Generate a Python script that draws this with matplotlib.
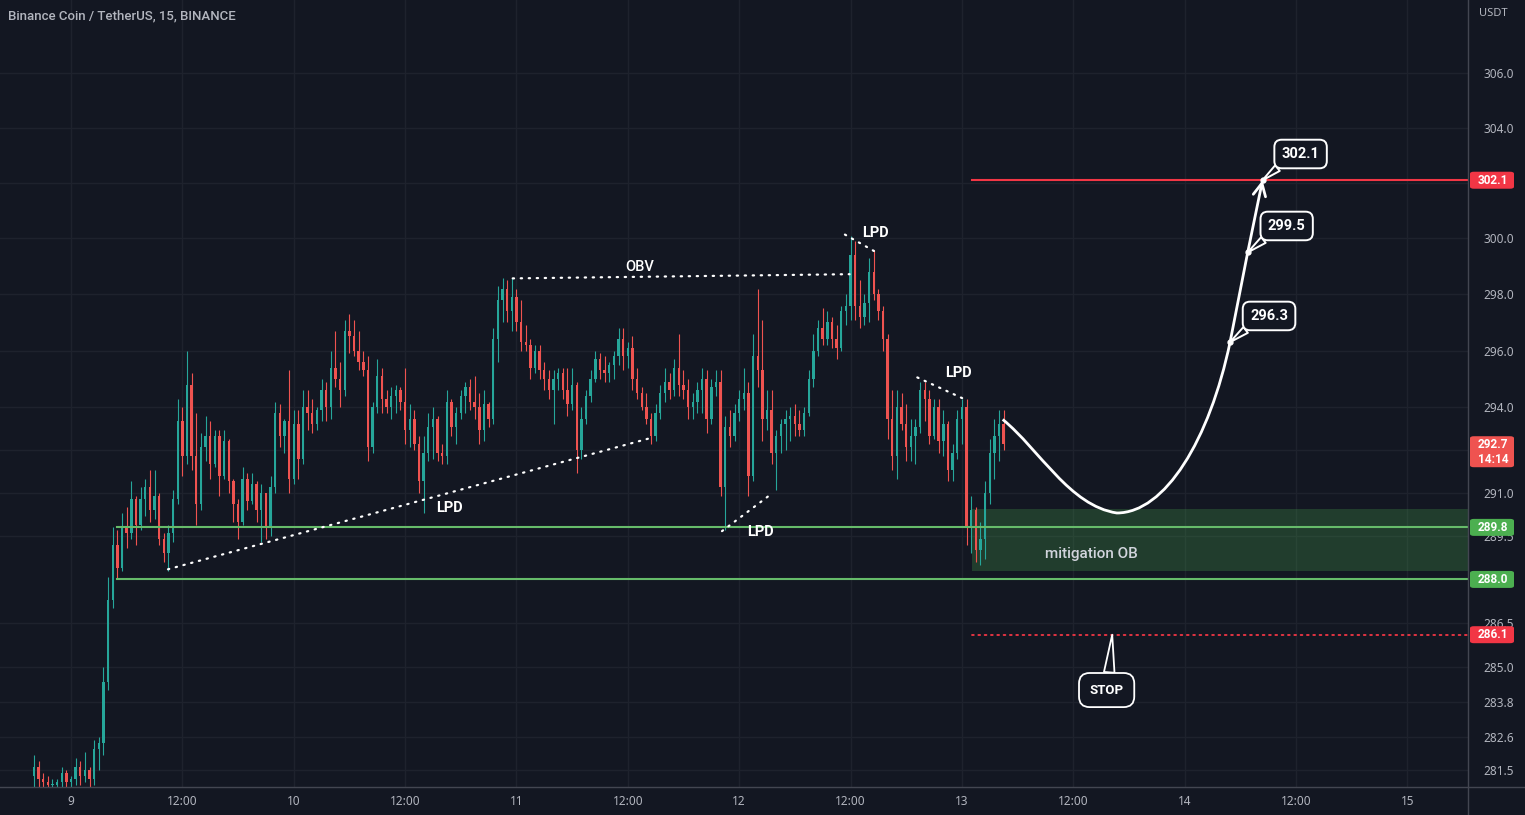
#!/usr/bin/env python3
# BNB/USDT 15m chart with the trade idea drawn on top (TradingView dark look)

import numpy as np
import matplotlib
matplotlib.use("Agg")
import matplotlib.pyplot as plt
from matplotlib.path import Path
from matplotlib.patches import PathPatch, Rectangle, FancyBboxPatch
from matplotlib.lines import Line2D
from matplotlib.ticker import FixedLocator, FixedFormatter, NullLocator

plt.rcParams['font.family'] = ['Noto Sans', 'DejaVu Sans']
BOLD = ['Roboto', 'DejaVu Sans']

# ---- data -------------------------------------------------------------
# candles every 30 min, time in hours from the 9th 00:00
candle_start = -4.0
candle_step = 0.5
first_open = 281.3
closes = [
    281.6, 281.2, 281.1, 281.0, 281.0, 281.1, 281.4, 281.1, 281.2, 281.6,
    281.3, 281.5, 281.2, 282.2, 282.4, 284.5, 287.3, 289.2, 288.4, 289.8,
    289.6, 290.8, 289.9, 290.8, 291.2, 290.4, 290.9, 289.4, 288.9, 289.6,
    290.8, 293.5, 292.3, 294.8, 292.3, 290.6, 292.6, 293.0, 292.0, 293.0,
    291.6, 292.8, 291.4, 290.6, 290.0, 291.5, 290.7, 291.3, 290.4, 291.0,
    289.8, 291.2, 293.8, 293.0, 293.5, 291.5, 293.4, 292.2, 294.0, 293.8,
    293.4, 293.9, 294.6, 294.0, 295.4, 295.0, 294.6, 296.7, 296.5, 296.0,
    295.6, 295.3, 292.6, 294.0, 295.1, 294.3, 294.0, 294.4, 294.6, 294.2,
    293.2, 293.6, 292.7, 291.4, 292.4, 293.3, 293.6, 292.4, 292.3, 294.2,
    293.3, 293.8, 294.4, 294.7, 294.2, 294.0, 293.2, 294.1, 293.6, 296.4,
    297.8, 298.2, 297.4, 297.9, 297.0, 296.3, 296.2, 295.4, 296.0, 295.3,
    295.0, 294.6, 295.0, 295.2, 294.6, 294.1, 294.8, 292.5, 293.6, 294.4,
    295.0, 295.7, 295.3, 295.2, 295.5, 295.8, 296.4, 295.8, 296.1, 295.0,
    294.5, 294.0, 293.6, 293.0, 293.8, 294.5, 294.9, 294.6, 295.4, 294.8,
    294.6, 294.0, 294.2, 294.6, 295.0, 293.6, 294.7, 294.9, 291.2, 293.3,
    293.0, 293.8, 294.3, 294.5, 291.6, 295.8, 295.3, 293.6, 293.9, 292.4,
    293.0, 293.4, 293.6, 293.7, 293.4, 293.2, 293.8, 295.0, 296.0, 296.8,
    296.4, 297.0, 296.4, 296.1, 297.4, 297.6, 299.4, 297.6, 297.2, 297.7,
    298.8, 298.0, 297.4, 296.4, 293.6, 292.3, 294.0, 293.4, 292.6, 293.0,
    293.3, 294.6, 294.3, 293.0, 294.0, 292.8, 293.4, 291.8, 292.4, 293.6,
    294.0, 289.8, 290.4, 289.0, 289.4, 291.0, 292.4, 293.0, 293.4, 292.7,
]
highs = [
    282.0, 281.8, 281.4, 281.3, 281.2, 281.2, 281.6, 281.5, 281.3, 281.9,
    281.8, 282.1, 281.6, 282.5, 282.6, 285.0, 288.1, 289.8, 289.7, 290.3,
    290.5, 291.4, 290.9, 291.2, 291.5, 291.8, 291.8, 291.0, 289.6, 289.9,
    291.1, 294.3, 294.0, 296.0, 295.2, 293.8, 293.1, 293.7, 293.5, 293.2,
    293.2, 293.2, 292.9, 291.5, 290.8, 291.9, 291.7, 291.7, 291.4, 291.3,
    291.0, 291.6, 294.2, 294.1, 293.6, 295.3, 293.9, 293.9, 294.6, 294.6,
    294.3, 294.0, 295.0, 294.9, 296.0, 296.7, 295.6, 297.1, 297.3, 297.1,
    296.7, 296.0, 295.8, 294.2, 295.7, 295.4, 294.6, 294.7, 294.8, 294.7,
    295.4, 294.1, 293.9, 293.0, 293.0, 293.8, 294.0, 293.7, 292.7, 294.6,
    294.3, 294.0, 294.6, 294.9, 295.0, 295.1, 294.5, 294.6, 294.2, 296.8,
    298.3, 298.6, 298.5, 298.6, 298.2, 297.8, 296.9, 296.4, 296.2, 296.2,
    295.6, 295.3, 295.3, 295.4, 295.4, 295.4, 295.4, 294.9, 294.0, 294.6,
    295.3, 296.0, 295.9, 295.8, 295.6, 296.0, 296.8, 296.8, 296.3, 296.5,
    295.4, 294.7, 294.5, 293.8, 294.1, 294.8, 295.4, 295.2, 295.7, 296.6,
    295.3, 295.0, 294.5, 294.9, 295.4, 295.3, 295.0, 295.3, 295.3, 293.7,
    293.9, 294.1, 294.6, 295.4, 294.9, 296.6, 298.2, 297.1, 294.6, 294.6,
    293.2, 293.6, 293.9, 294.0, 294.1, 293.9, 294.0, 295.3, 296.6, 297.1,
    297.5, 297.4, 297.2, 296.9, 297.6, 298.0, 300.1, 299.9, 298.5, 298.0,
    299.3, 299.6, 298.2, 297.6, 296.6, 294.6, 294.6, 294.5, 294.1, 293.6,
    293.6, 294.9, 294.9, 294.6, 294.3, 294.3, 293.9, 293.5, 292.7, 293.9,
    294.3, 294.3, 290.9, 290.5, 290.0, 291.4, 292.9, 293.6, 293.9, 293.9,
]
lows = [
    280.8, 280.9, 280.8, 280.8, 280.8, 280.9, 280.9, 280.9, 280.9, 281.0,
    281.0, 281.1, 280.9, 281.0, 281.5, 282.0, 284.2, 287.0, 288.0, 288.3,
    289.1, 289.4, 289.2, 289.7, 290.2, 290.0, 290.1, 289.2, 288.6, 288.3,
    289.3, 290.6, 291.6, 292.0, 291.8, 289.9, 290.4, 292.1, 291.5, 291.9,
    290.9, 291.5, 291.0, 290.0, 289.4, 289.9, 290.4, 290.6, 290.0, 289.3,
    289.4, 289.5, 291.0, 292.6, 292.4, 291.0, 291.3, 291.5, 292.0, 293.2,
    293.1, 293.2, 293.5, 293.5, 293.6, 294.7, 294.0, 294.4, 295.9, 295.8,
    295.3, 295.1, 292.1, 292.4, 293.8, 293.8, 293.8, 293.6, 293.8, 293.9,
    292.7, 292.6, 292.5, 291.0, 290.3, 292.1, 292.2, 292.1, 292.0, 292.0,
    293.0, 292.7, 293.6, 293.8, 293.9, 293.6, 292.7, 292.8, 293.3, 293.4,
    295.6, 297.0, 297.0, 296.7, 296.7, 296.0, 296.0, 295.0, 295.2, 295.0,
    294.6, 294.3, 293.4, 294.6, 294.3, 293.7, 293.9, 291.7, 292.2, 293.4,
    294.2, 294.9, 295.0, 294.9, 294.9, 295.0, 295.5, 295.3, 295.4, 294.6,
    294.3, 293.9, 293.4, 292.7, 292.8, 293.6, 294.2, 294.3, 294.4, 294.4,
    294.3, 293.6, 293.6, 293.8, 293.8, 293.1, 293.4, 294.4, 290.9, 289.7,
    292.6, 292.8, 293.5, 293.9, 290.9, 291.4, 294.7, 292.8, 293.2, 292.0,
    291.1, 292.4, 292.5, 292.8, 293.0, 293.0, 293.0, 293.7, 294.7, 295.8,
    296.2, 296.2, 296.1, 295.7, 296.0, 296.9, 297.1, 297.1, 296.8, 296.9,
    297.0, 297.8, 297.1, 296.0, 292.9, 291.8, 291.5, 293.2, 292.1, 292.1,
    292.0, 293.1, 293.5, 292.7, 292.9, 292.4, 292.3, 291.4, 291.4, 292.2,
    292.7, 289.2, 288.9, 288.6, 288.5, 288.7, 290.6, 291.5, 292.1, 292.5,
]

day_ticks = [0, 12, 24, 36, 48, 60, 72, 84, 96, 108, 120, 132, 144]
day_labels = ['9', '12:00', '10', '12:00', '11', '12:00', '12', '12:00',
              '13', '12:00', '14', '12:00', '15']
price_ticks = [281.5, 282.6, 283.8, 285.0, 286.5, 289.5, 291.0, 292.5,
               294.0, 296.0, 298.0, 300.0, 302.0, 304.0, 306.0]
# tick labels sitting under a price badge are not printed
hidden_ticks = [292.5, 302.0]

# levels of the idea
target_price = 302.1
ob_top, ob_bottom = 290.45, 288.28
support_hi, support_lo = 289.8, 288.0
stop_price = 286.1
last_price = 292.7
countdown = '14:14'
zone_start = 97.1
level_start = 5.0

# projected move (hour, price): start, two bezier handles, low, handles, first target
proj_pts = [(100.4, 293.57), (104.4, 292.5), (107.6, 290.55), (112.7, 290.3),
            (117.9, 290.3), (122.7, 292.86), (124.9, 296.3)]
target_pts = [(124.9, 296.3), (126.8, 299.5), (128.4, 302.1)]
target_txt = ['296.3', '299.5', '302.1']
target_box = [(129.1, 297.23), (131.0, 300.45), (132.5, 303.05)]
stop_pt = (112.2, 286.1)
stop_box = (111.6, 284.21)

obv_line = [(47.6, 298.57), (83.9, 298.72)]
obv_label = (61.3, 298.97)
lpd_lines = [
    [(10.45, 288.35), (62.6, 292.93)],
    [(70.15, 289.67), (75.5, 290.97)],
    [(83.4, 300.14), (86.8, 299.5)],
    [(91.2, 295.05), (96.5, 294.25)],
]
lpd_labels = [(40.8, 290.47), (74.3, 289.63), (86.7, 300.18), (95.6, 295.19)]
ob_label = (110.0, 288.87)

# ---- style -------------------------------------------------------------
BG = '#131722'
TXT = '#b2b5be'
GRID = '#1e222d'
AXLINE = '#434651'
UP = '#26a69a'
DOWN = '#ef5350'
RED = '#f23645'
GREEN = '#4caf50'

W, H = 1525, 815
fig = plt.figure(figsize=(W / 100, H / 100), dpi=100, facecolor=BG)
ax = fig.add_axes([0, 28 / H, 1468 / W, 787 / H])
ax.set_facecolor(BG)
ax.set_yscale('log')
ax.set_xlim(-7.65, 150.54)
ax.set_ylim(280.93, 308.69)
for s in ax.spines.values():
    s.set_visible(False)

ax.yaxis.tick_right()
ax.yaxis.set_major_locator(FixedLocator(price_ticks))
ax.yaxis.set_major_formatter(FixedFormatter(
    ['' if p in hidden_ticks else '%.1f' % p for p in price_ticks]))
ax.yaxis.set_minor_locator(NullLocator())
ax.set_xticks(day_ticks)
ax.set_xticklabels(day_labels)
ax.tick_params(axis='y', length=0, pad=11, labelsize=8.5, labelcolor=TXT)
ax.tick_params(axis='x', length=0, pad=6, labelsize=8.5, labelcolor=TXT)
ax.grid(True, color=GRID, lw=1)
ax.set_axisbelow(True)

# ---- candles ------------------------------------------------------------
closes = np.array(closes)
highs = np.array(highs)
lows = np.array(lows)
opens = np.concatenate([[first_open], closes[:-1]])
t = candle_start + candle_step * np.arange(len(closes))
cols = np.where(closes >= opens, UP, DOWN)
ax.vlines(t, lows, highs, colors=cols, lw=0.8, zorder=3)
body_lo = np.minimum(opens, closes)
body_h = np.maximum(np.abs(closes - opens), 0.04)
ax.bar(t, body_h, bottom=body_lo, width=0.26, color=cols, lw=0, zorder=3)

# ---- levels and zone ----------------------------------------------------
x_end = 150.54
ax.add_patch(Rectangle((zone_start, ob_bottom), x_end - zone_start, ob_top - ob_bottom,
                       fc=GREEN, alpha=0.25, ec='none', zorder=2))
ax.plot([level_start, x_end], [support_hi] * 2, color='#66bb6a', lw=1.5, zorder=4)
ax.plot([level_start, x_end], [support_lo] * 2, color='#66bb6a', lw=1.5, zorder=4)
ax.plot([zone_start, x_end], [target_price] * 2, color=RED, lw=1.5, zorder=4)
ax.plot([zone_start, x_end], [stop_price] * 2, color=RED, lw=1.3,
        ls=(0, (1, 2.5)), dash_capstyle='round', zorder=4)
ax.text(*ob_label, 'mitigation OB', color='#d1d4dc', fontsize=11,
        family=BOLD, fontweight='medium', ha='center', va='center', zorder=5)

# ---- dotted swing lines -------------------------------------------------
for ln in [obv_line] + lpd_lines:
    xs, ys = zip(*ln)
    ax.plot(xs, ys, color='white', lw=1.6, ls=(0, (0.6, 3)),
            dash_capstyle='round', zorder=5)
ax.text(*obv_label, 'OBV', color='white', fontsize=10.5, family=BOLD,
        fontweight='medium', ha='center', va='center', zorder=6)
for p in lpd_labels:
    ax.text(*p, 'LPD', color='white', fontsize=10.5, family=BOLD,
            fontweight='bold', ha='center', va='center', zorder=6)

# ---- projection curve ---------------------------------------------------
codes = [Path.MOVETO] + [Path.CURVE4] * 6
ax.add_patch(PathPatch(Path(proj_pts, codes), fc='none', ec='white', lw=2, zorder=6))
ax.plot([target_pts[0][0], target_pts[1][0]], [target_pts[0][1], target_pts[1][1]],
        color='white', lw=2, zorder=6)
ax.annotate('', xy=target_pts[2], xytext=target_pts[1],
            arrowprops=dict(arrowstyle='->,head_length=0.9,head_width=0.45',
                            color='white', lw=2, shrinkA=0, shrinkB=0), zorder=6)
for p, box, txt in zip(target_pts, target_box, target_txt):
    ax.plot(*p, 'o', ms=3.5, color='white', zorder=7)
    ax.annotate(txt, xy=p, xytext=box, color='white', fontsize=10.5, family=BOLD,
                fontweight='bold', ha='center', va='center', zorder=8,
                bbox=dict(boxstyle='round,pad=0.5', fc=BG, ec='white', lw=1.4),
                arrowprops=dict(arrowstyle='wedge,tail_width=0.5', fc=BG, ec='white',
                                lw=1.4, relpos=(0.12, 0.0), shrinkA=0, shrinkB=0))
ax.annotate('STOP', xy=stop_pt, xytext=stop_box, color='white', fontsize=9.5,
            family=BOLD, fontweight='bold', ha='center', va='center', zorder=8,
            bbox=dict(boxstyle='round,pad=0.8', fc=BG, ec='white', lw=1.3),
            arrowprops=dict(arrowstyle='wedge,tail_width=0.8', fc=BG, ec='white',
                            lw=1.3, relpos=(0.55, 1.0), shrinkA=0, shrinkB=0))

# ---- price axis badges --------------------------------------------------
fig.canvas.draw()


def badge(price, label, color, h_px=17, top_off=None):
    yp = ax.transData.transform((0, price))[1]
    if top_off is None:
        y0 = yp - h_px / 2
    else:
        y0 = yp + top_off - h_px
    fig.add_artist(FancyBboxPatch((1470 / W, y0 / H), 44 / W, h_px / H,
                                  boxstyle='round,pad=0,rounding_size=0.0025',
                                  fc=color, ec='none', transform=fig.transFigure))
    fig.text(1493 / W, (y0 + h_px / 2) / H, label, color='white', fontsize=8.5,
             family=BOLD, fontweight='bold', ha='center', va='center',
             linespacing=1.2)


badge(target_price, '%.1f' % target_price, RED)
badge(last_price, '%.1f\n%s' % (last_price, countdown), DOWN, h_px=31, top_off=8)
badge(support_hi, '%.1f' % support_hi, GREEN)
badge(support_lo, '%.1f' % support_lo, GREEN)
badge(stop_price, '%.1f' % stop_price, RED)

# frame lines and header
fig.add_artist(Line2D([1468 / W] * 2, [0, 1], color=AXLINE, lw=1, transform=fig.transFigure))
fig.add_artist(Line2D([0, 1], [28 / H] * 2, color=AXLINE, lw=1, transform=fig.transFigure))
fig.text(8 / W, 1 - 16 / H, 'Binance Coin / TetherUS, 15, BINANCE', color=TXT,
         fontsize=9.5, family=BOLD, fontweight='medium', ha='left', va='center')
fig.text(1493 / W, 1 - 13 / H, 'USDT', color=TXT, fontsize=8, ha='center', va='center')

fig.savefig('out.png', dpi=100, facecolor=BG)
